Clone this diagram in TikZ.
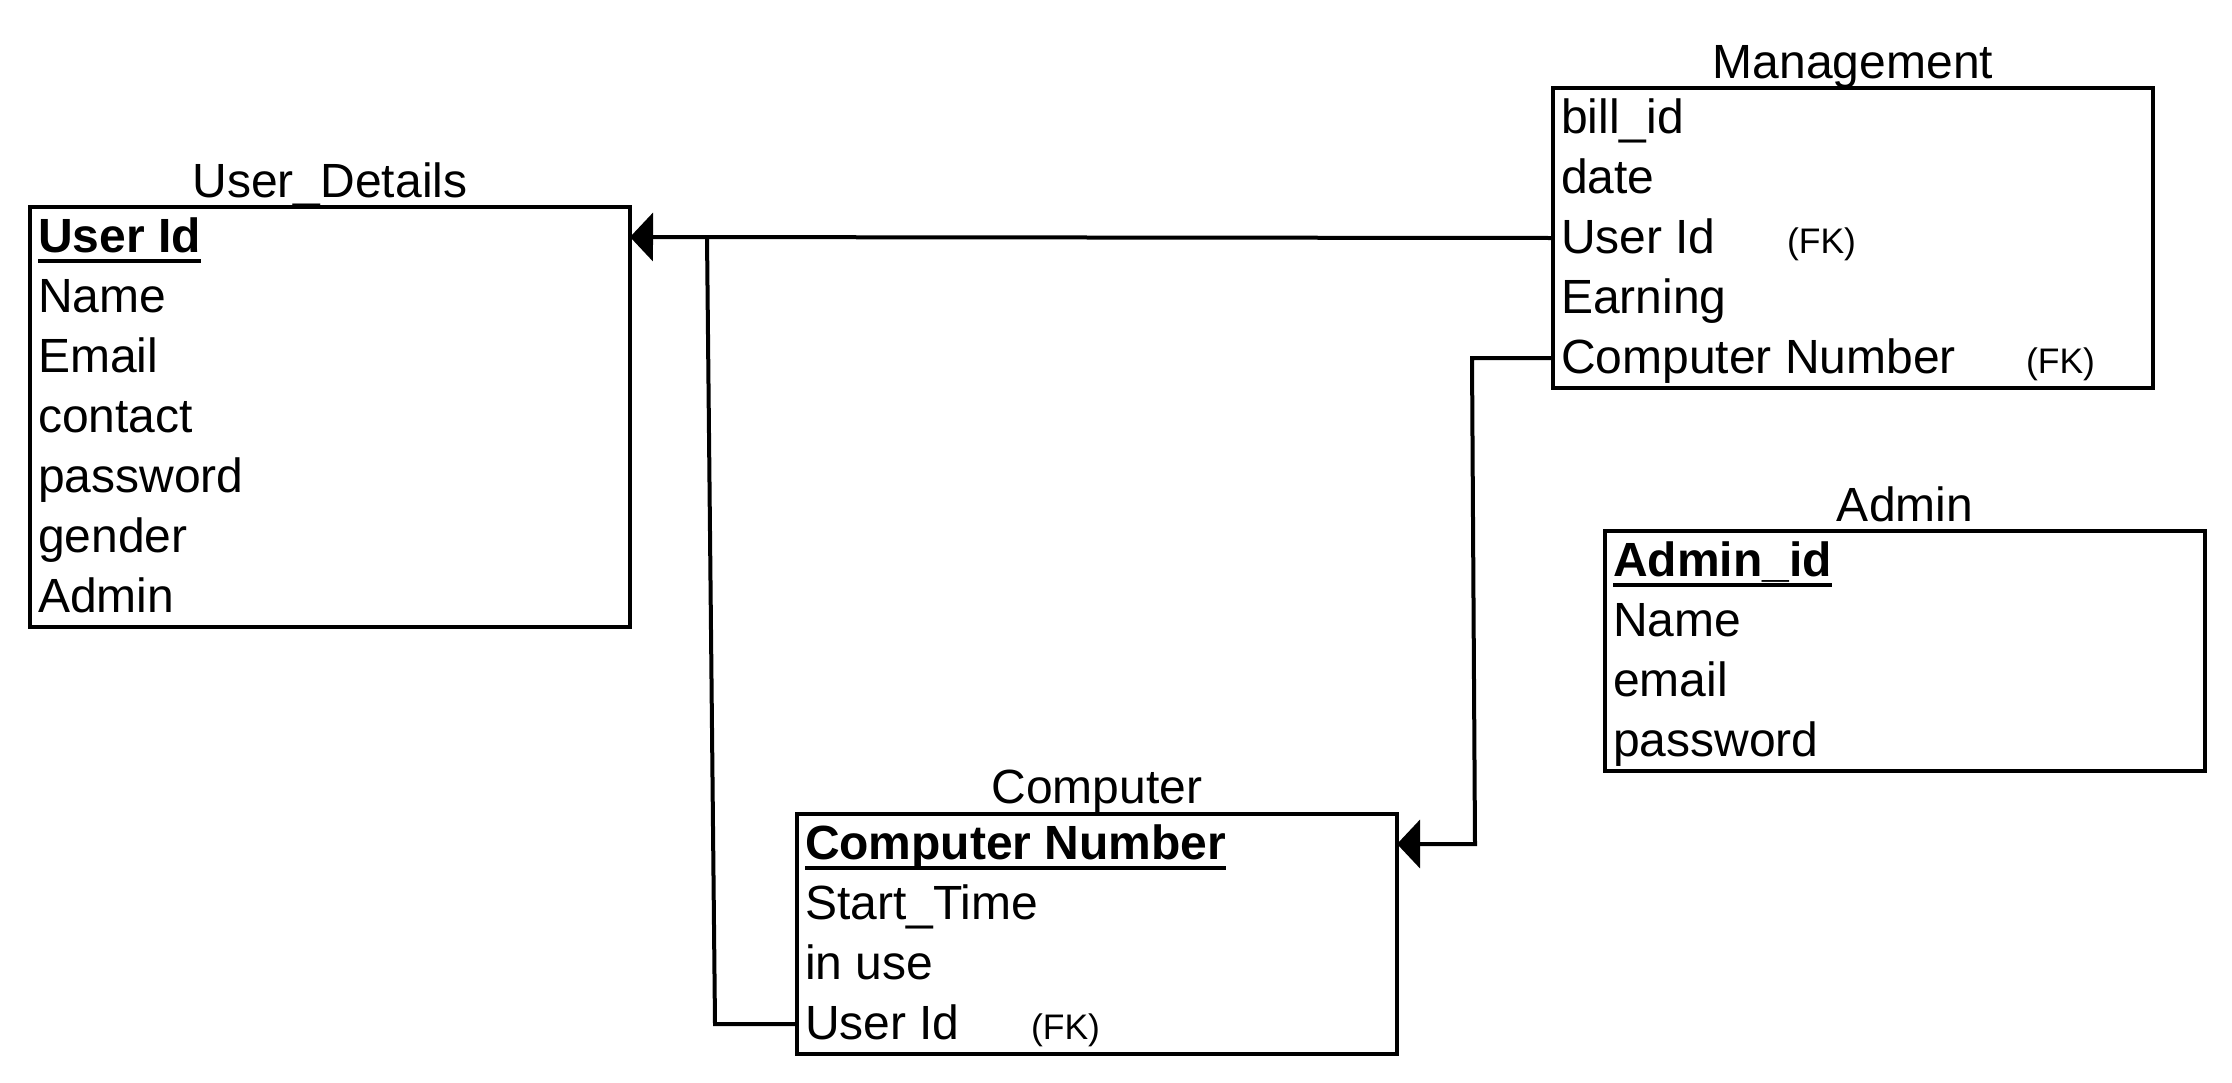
\documentclass[tikz,border=0pt]{standalone}
\usepackage{fontspec}
\setmainfont{Liberation Sans}
\usetikzlibrary{arrows.meta}
\newcommand\rowfont{\fontsize{48pt}{57pt}\selectfont}
\newcommand\fkfont{\fontsize{35.5pt}{42pt}\selectfont}
\newcommand\pkul[1]{\setbox0\hbox{\textbf{#1}}\rlap{\vrule width\wd0 height -7pt depth 11pt}\box0}
\newcommand\rt[1]{\makebox[590pt][l]{\hspace{3pt}#1}}
\newcommand\rtfk[2]{\makebox[590pt][l]{\hspace{3pt}\rlap{#1}\hspace{#2}{\fkfont(FK)}}}
\tikzset{
  ent/.style={draw, line width=4pt, minimum width=600pt, inner sep=0pt, outer sep=0pt, anchor=north west},
  erow/.style={minimum width=600pt, minimum height=60pt, inner sep=0pt, outer sep=0pt,
               text height=37.5pt, text depth=7.5pt, anchor=north west, font=\rowfont},
  etitle/.style={anchor=base, inner sep=0pt, outer sep=0pt, font=\rowfont},
  conn/.style={line width=4pt},
  arr/.style={-{Triangle[length=23pt,width=48pt]}}
}
\begin{document}
\begin{tikzpicture}[x=1pt,y=-1pt]
\useasboundingbox (0,0) rectangle (2232,1082);

% ---------- User_Details ----------
\node[ent, minimum height=420pt] (ud) at (30,207) {};
\node[etitle] (udt) at (330,197) {User\_Details};
\node[erow] (ud0) at (30,207) {\rt{\pkul{User Id}}};
\node[erow] (ud1) at (30,267) {\rt{Name}};
\node[erow] (ud2) at (30,327) {\rt{Email}};
\node[erow] (ud3) at (30,387) {\rt{contact}};
\node[erow] (ud4) at (30,447) {\rt{password}};
\node[erow] (ud5) at (30,507) {\rt{gender}};
\node[erow] (ud6) at (30,567) {\rt{Admin}};

% ---------- Management ----------
\node[ent, minimum height=300pt] (mg) at (1553,88) {};
\node[etitle] (mgt) at (1853,78) {Management};
\node[erow] (mg0) at (1553,88) {\rt{bill\_id}};
\node[erow] (mg1) at (1553,148) {\rt{date}};
\node[erow] (mg2) at (1553,208) {\rtfk{User Id}{226pt}};
\node[erow] (mg3) at (1553,268) {\rt{Earning}};
\node[erow] (mg4) at (1553,328) {\rtfk{Computer Number}{465pt}};

% ---------- Admin ----------
\node[ent, minimum height=240pt] (ad) at (1605,531) {};
\node[etitle] (adt) at (1905,521) {Admin};
\node[erow] (ad0) at (1605,531) {\rt{\pkul{Admin\_id}}};
\node[erow] (ad1) at (1605,591) {\rt{Name}};
\node[erow] (ad2) at (1605,651) {\rt{email}};
\node[erow] (ad3) at (1605,711) {\rt{password}};

% ---------- Computer ----------
\node[ent, minimum height=240pt] (co) at (797,814) {};
\node[etitle] (cot) at (1097,803) {Computer};
\node[erow] (co0) at (797,814) {\rt{\pkul{Computer Number}}};
\node[erow] (co1) at (797,874) {\rt{Start\_Time}};
\node[erow] (co2) at (797,934) {\rt{in use}};
\node[erow] (co3) at (797,994) {\rtfk{User Id}{226pt}};

% ---------- connectors ----------
\coordinate (j1) at (707,237);
\coordinate (b1) at (715,1024);
\coordinate (b2) at (1472,358);
\coordinate (b3) at (1475,844);

\draw[conn, arr] (mg2.west) -- (ud0.east);
\draw[conn] (co3.west) -- (b1) -- (j1);
\draw[conn, arr] (mg4.west) -- (b2) -- (b3) -- (co0.east);
\end{tikzpicture}
\end{document}
